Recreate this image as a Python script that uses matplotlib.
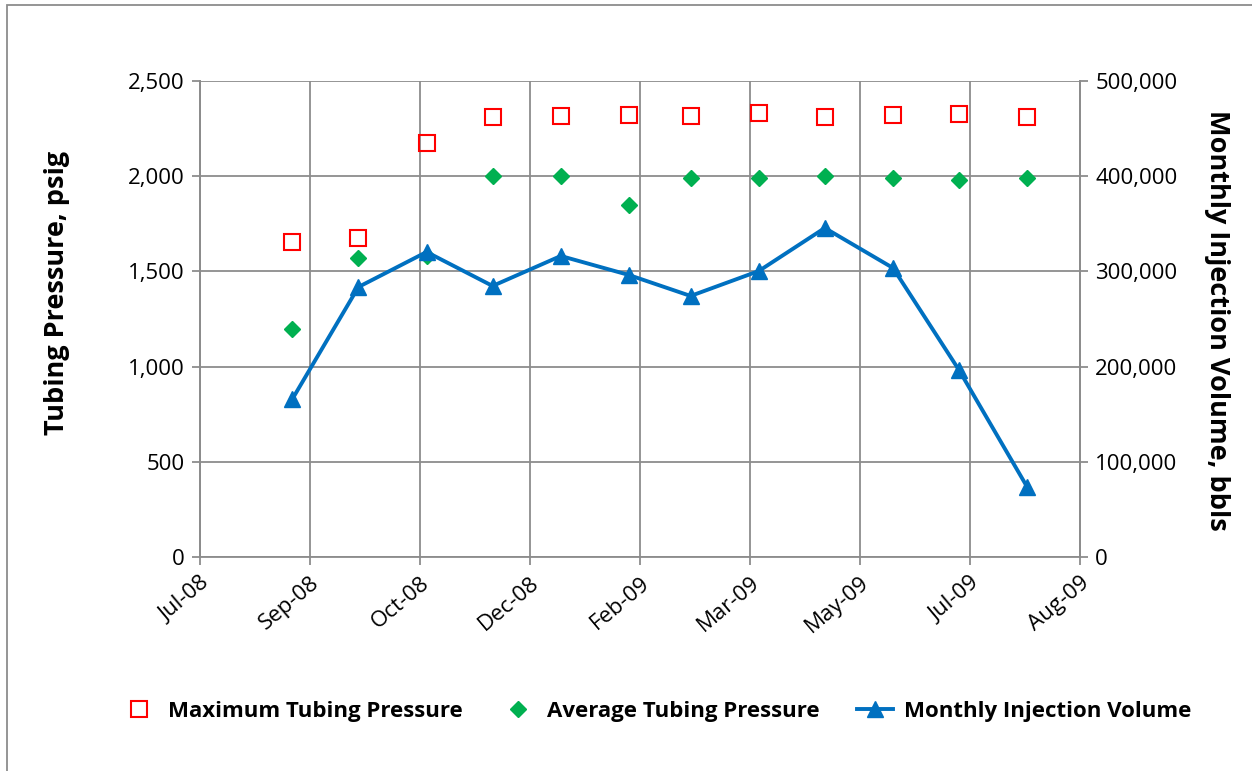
import matplotlib
matplotlib.use('Agg')
import matplotlib.pyplot as plt
import matplotlib.dates as mdates
import matplotlib.ticker as mtick
from matplotlib.patches import Rectangle
from matplotlib.lines import Line2D
from datetime import datetime, timedelta

plt.rcParams['font.family'] = ['Open Sans', 'DejaVu Sans']

# Monthly data points (month end dates)
months = ['2008-08-31', '2008-09-30', '2008-10-31', '2008-11-30', '2008-12-31', '2009-01-31',
          '2009-02-28', '2009-03-31', '2009-04-30', '2009-05-31', '2009-06-30', '2009-07-31']
max_pressure = [1655, 1675, 2174, 2311, 2316, 2321, 2316, 2332, 2311, 2321, 2327, 2311]
avg_pressure = [1200, 1570, 1580, 2000, 2000, 1850, 1990, 1990, 2000, 1990, 1980, 1990]
injection_volume = [166000, 283600, 320400, 284700, 316200, 296200, 274200, 300400, 345600, 303600, 196400, 73500]

dates = [datetime.strptime(m, '%Y-%m-%d') for m in months]

# Excel style date axis: start date + 50 day major unit
axis_start = datetime(2008, 7, 20)
major_days = 50
tick_dates = [axis_start + timedelta(days=major_days * i) for i in range(9)]

grid_color = '#8c8c8c'
W, H = 1252, 771

fig = plt.figure(figsize=(12.52, 7.71), dpi=100)
ax1 = fig.add_axes([200 / W, 1 - 557 / H, 880 / W, 476 / H])
ax2 = ax1.twinx()

# Outer chart frame
fig.patches.append(Rectangle((7 / W, -0.1), 1.2, 1 - 5 / H + 0.1, transform=fig.transFigure,
                             fill=False, edgecolor='#8c8c8c', linewidth=1.3))

ax1.plot(dates, max_pressure, linestyle='none', marker='s', markersize=11,
         markerfacecolor='none', markeredgecolor='#ff0000', markeredgewidth=1.5, zorder=3)
ax1.plot(dates, avg_pressure, linestyle='none', marker='D', markersize=8,
         color='#00b050', zorder=3)
ax2.plot(dates, injection_volume, color='#0070c0', linewidth=2.8, marker='^', markersize=11, zorder=4)

ax1.set_xlim(tick_dates[0], tick_dates[-1])
ax1.set_xticks(tick_dates)
ax1.xaxis.set_major_formatter(mdates.DateFormatter('%b-%y'))
ax1.set_ylim(0, 2500)
ax1.set_yticks(range(0, 2501, 500))
ax1.yaxis.set_major_formatter(mtick.FuncFormatter(lambda x, _: f'{x:,.0f}'))
ax2.set_ylim(0, 500000)
ax2.set_yticks(range(0, 500001, 100000))
ax2.yaxis.set_major_formatter(mtick.FuncFormatter(lambda x, _: f'{x:,.0f}'))

ax1.grid(True, color=grid_color, linewidth=1.3)
ax1.set_axisbelow(True)
for ax in (ax1, ax2):
    for side in ('top', 'bottom'):
        ax.spines[side].set_visible(False)
    ax.spines['left'].set_color(grid_color)
    ax.spines['right'].set_color(grid_color)
    ax.spines['left'].set_linewidth(1.3)
    ax.spines['right'].set_linewidth(1.3)
    ax.tick_params(colors=grid_color, labelcolor='black', labelsize=16, length=6, width=1.3, pad=5)
ax1.spines['bottom'].set_visible(True)
ax1.spines['bottom'].set_color(grid_color)
ax1.spines['bottom'].set_linewidth(1.3)

for lbl in ax1.get_xticklabels():
    lbl.set_rotation(40)
    lbl.set_ha('right')
    lbl.set_rotation_mode('anchor')

fig.text(57 / W, 1 - 293 / H, 'Tubing Pressure, psig', fontsize=19.5, fontweight='bold',
         rotation=90, ha='center', va='center')
fig.text(1217 / W, 1 - 320 / H, 'Monthly Injection Volume, bbls', fontsize=19.5, fontweight='bold',
         rotation=-90, ha='center', va='center')

handles = [
    Line2D([], [], linestyle='none', marker='s', markersize=11, markerfacecolor='none',
           markeredgecolor='#ff0000', markeredgewidth=1.5),
    Line2D([], [], linestyle='none', marker='D', markersize=8, color='#00b050'),
    Line2D([], [], color='#0070c0', linewidth=2.8, marker='^', markersize=11),
]
labels = ['Maximum Tubing Pressure', 'Average Tubing Pressure', 'Monthly Injection Volume']
fig.legend(handles, labels, loc='center', bbox_to_anchor=(656 / W, 1 - 711 / H), ncol=3,
           frameon=False, prop={'weight': 'bold', 'size': 16}, columnspacing=1.7,
           handlelength=1.6, handletextpad=0.5)

plt.savefig('out.png', dpi=100)
plt.close()
